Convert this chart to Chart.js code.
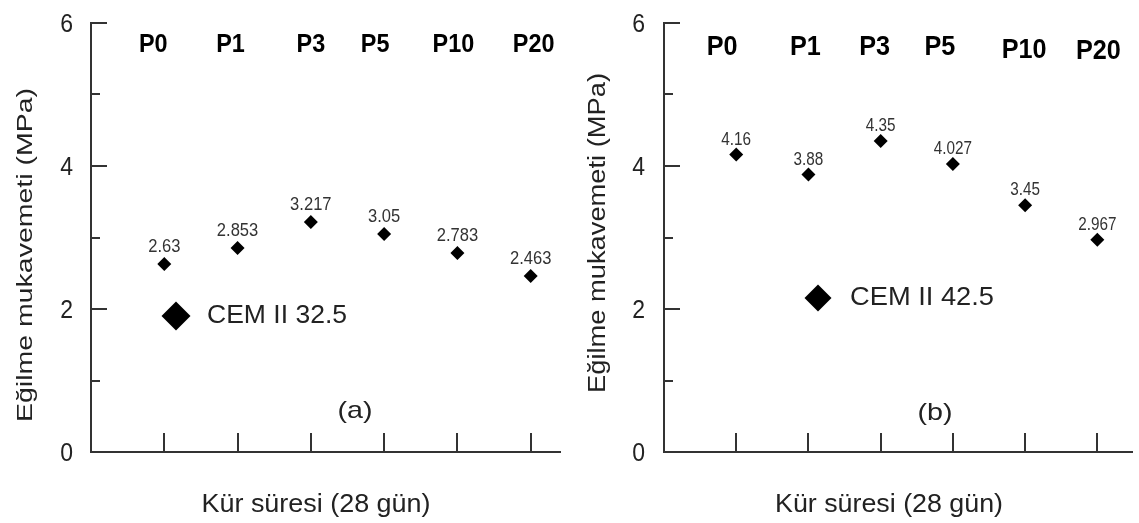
<!DOCTYPE html>
<html>
<head>
<meta charset="utf-8">
<script src="https://cdn.jsdelivr.net/npm/chart.js@4.4.1/dist/chart.umd.min.js"></script>
<style>
    body { margin: 0; background: #fff; }
    #wrap { position: relative; width: 1139px; height: 523px; background: #fff; }
    #wrap canvas { position: absolute; top: 0; }
</style>
</head>
<body>
<div id="wrap">
    <canvas id="chartA" width="570" height="523" style="left:0"></canvas>
    <canvas id="chartB" width="569" height="523" style="left:570px"></canvas>
</div>
<script>
// data
const categories = ["P0", "P1", "P3", "P5", "P10", "P20"];
const cem325 = [2.63, 2.853, 3.217, 3.05, 2.783, 2.463];
const cem425 = [4.16, 3.88, 4.35, 4.027, 3.45, 2.967];
const yTickLabels = [0, 2, 4, 6];
const seriesNames = ["CEM II 32.5", "CEM II 42.5"];
const panelTags = ["(a)", "(b)"];
const xTitle = "Kür süresi (28 gün)";
const yTitle = "Eğilme mukavemeti (MPa)";

const FONT = "'Liberation Sans', Arial, sans-serif";

// draw text squeezed/stretched to a given width
function fitText(ctx, text, x, y, w) {
    const m = ctx.measureText(text).width;
    squeezeText(ctx, text, x, y, w / m);
}

function squeezeText(ctx, text, x, y, sx) {
    ctx.save();
    ctx.translate(x, y);
    ctx.scale(sx, 1);
    ctx.fillText(text, 0, 0);
    ctx.restore();
}

const decor = {
    id: "decor",
    afterDraw(chart, args, o) {
        const ctx = chart.ctx;
        const ca = chart.chartArea;
        const xs = chart.scales.x;
        const ys = chart.scales.y;

        ctx.save();
        // inward tick marks
        ctx.strokeStyle = "#333";
        ctx.lineWidth = 2;
        ctx.beginPath();
        for (let v = 1; v <= 6; v++) {
            const py = Math.round(ys.getPixelForValue(v));
            const len = v % 2 == 0 ? 16 : 9;
            ctx.moveTo(ca.left, py);
            ctx.lineTo(ca.left + len, py);
        }
        for (let i = 0; i < categories.length; i++) {
            const px = Math.round(xs.getPixelForValue(i + 1));
            ctx.moveTo(px, ca.bottom);
            ctx.lineTo(px, ca.bottom - 19);
        }
        ctx.stroke();

        // y tick numbers
        ctx.fillStyle = "#222";
        ctx.font = "25px " + FONT;
        ctx.textAlign = "right";
        ctx.textBaseline = "middle";
        yTickLabels.forEach((v) => {
            squeezeText(ctx, String(v), ca.left - o.yTickPad, ys.getPixelForValue(v) + 2, 0.92);
        });

        // category names on top
        ctx.fillStyle = "#000";
        ctx.font = "bold " + o.catFont + "px " + FONT;
        ctx.textAlign = "center";
        ctx.textBaseline = "alphabetic";
        categories.forEach((c, i) => {
            const px = xs.getPixelForValue(i + 1) + o.catDx[i];
            squeezeText(ctx, c, px, o.catBaseline + o.catDy[i], 0.9);
        });

        // value labels above the points
        ctx.fillStyle = "#333";
        ctx.font = o.labelFont + "px " + FONT;
        const meta = chart.getDatasetMeta(0);
        meta.data.forEach((pt, i) => {
            squeezeText(ctx, String(o.values[i]), pt.x, pt.y - o.labelGap, o.labelSqueeze);
        });

        // legend symbol + name
        const lg = o.legend;
        ctx.fillStyle = "#000";
        ctx.beginPath();
        ctx.moveTo(lg.x, lg.y - lg.r);
        ctx.lineTo(lg.x + lg.r, lg.y);
        ctx.lineTo(lg.x, lg.y + lg.r);
        ctx.lineTo(lg.x - lg.r, lg.y);
        ctx.closePath();
        ctx.fill();
        ctx.fillStyle = "#222";
        ctx.font = lg.size + "px " + FONT;
        ctx.textAlign = "left";
        ctx.textBaseline = "middle";
        fitText(ctx, o.name, lg.tx, lg.y, lg.tw);

        // panel tag
        ctx.textAlign = "center";
        ctx.font = o.tag.size + "px " + FONT;
        fitText(ctx, o.tagText, o.tag.x, o.tag.y, o.tag.w);

        // axis titles
        ctx.textBaseline = "alphabetic";
        ctx.font = o.xTitle.size + "px " + FONT;
        fitText(ctx, xTitle, o.xTitle.x, o.xTitle.y, o.xTitle.w);

        ctx.font = o.yTitle.size + "px " + FONT;
        const m = ctx.measureText(yTitle).width;
        ctx.translate(o.yTitle.x, o.yTitle.y);
        ctx.rotate(-Math.PI / 2);
        ctx.scale(o.yTitle.w / m, 1);
        ctx.fillText(yTitle, 0, 0);
        ctx.restore();
    },
};

function makeChart(canvasId, values, o) {
    const pts = values.map((v, i) => ({ x: i + 1, y: v }));
    return new Chart(canvasId, {
        type: "scatter",
        data: {
            datasets: [
                {
                    data: pts,
                    pointStyle: "rectRot",
                    pointRadius: 7,
                    pointHoverRadius: 7,
                    backgroundColor: "#000",
                    borderColor: "#000",
                    borderWidth: 0,
                },
            ],
        },
        options: {
            responsive: false,
            animation: false,
            events: [],
            layout: {
                padding: { top: 23, right: o.padRight, left: 0, bottom: 0 },
            },
            plugins: {
                legend: { display: false },
                tooltip: { enabled: false },
                decor: Object.assign({ values: values }, o),
            },
            scales: {
                x: {
                    type: "linear",
                    min: 0,
                    max: o.xMax,
                    ticks: { display: false },
                    grid: { display: false, drawTicks: false },
                    border: { display: true, color: "#333", width: 2 },
                    afterFit: (s) => {
                        s.height = 71;
                    },
                },
                y: {
                    min: 0,
                    max: 6,
                    ticks: { display: false },
                    grid: { display: false, drawTicks: false },
                    border: { display: true, color: "#333", width: 2 },
                    afterFit: (s) => {
                        s.width = o.axisLeft;
                    },
                },
            },
        },
        plugins: [decor],
    });
}

makeChart("chartA", cem325, {
    axisLeft: 91,
    padRight: 10,
    xMax: 6.4,
    yTickPad: 18,
    catFont: 26,
    catBaseline: 52,
    catDx: [-11, -7, 0, -9, -4, 3],
    catDy: [0, 0, 0, 0, 0, 0],
    labelFont: 18,
    labelSqueeze: 0.92,
    labelGap: 12,
    name: seriesNames[0],
    legend: { x: 176, y: 316, r: 14.5, tx: 207, tw: 140, size: 25 },
    tagText: panelTags[0],
    tag: { x: 355, y: 411, w: 35, size: 24 },
    xTitle: { x: 316, y: 512, w: 229, size: 26 },
    yTitle: { x: 32, y: 255, w: 334, size: 22 },
});

makeChart("chartB", cem425, {
    axisLeft: 94,
    padRight: 0,
    xMax: 6.48,
    yTickPad: 19,
    catFont: 28,
    catBaseline: 55,
    catDx: [-14, -3, -6, -13, -1, 1],
    catDy: [0, 0, 0, 0, 3, 4],
    labelFont: 18,
    labelSqueeze: 0.85,
    labelGap: 10,
    name: seriesNames[1],
    legend: { x: 248, y: 298, r: 13.5, tx: 280, tw: 144, size: 25 },
    tagText: panelTags[1],
    tag: { x: 365, y: 413, w: 35, size: 24 },
    xTitle: { x: 319, y: 512, w: 228, size: 26 },
    yTitle: { x: 35, y: 233, w: 320, size: 23 },
});
</script>
</body>
</html>
